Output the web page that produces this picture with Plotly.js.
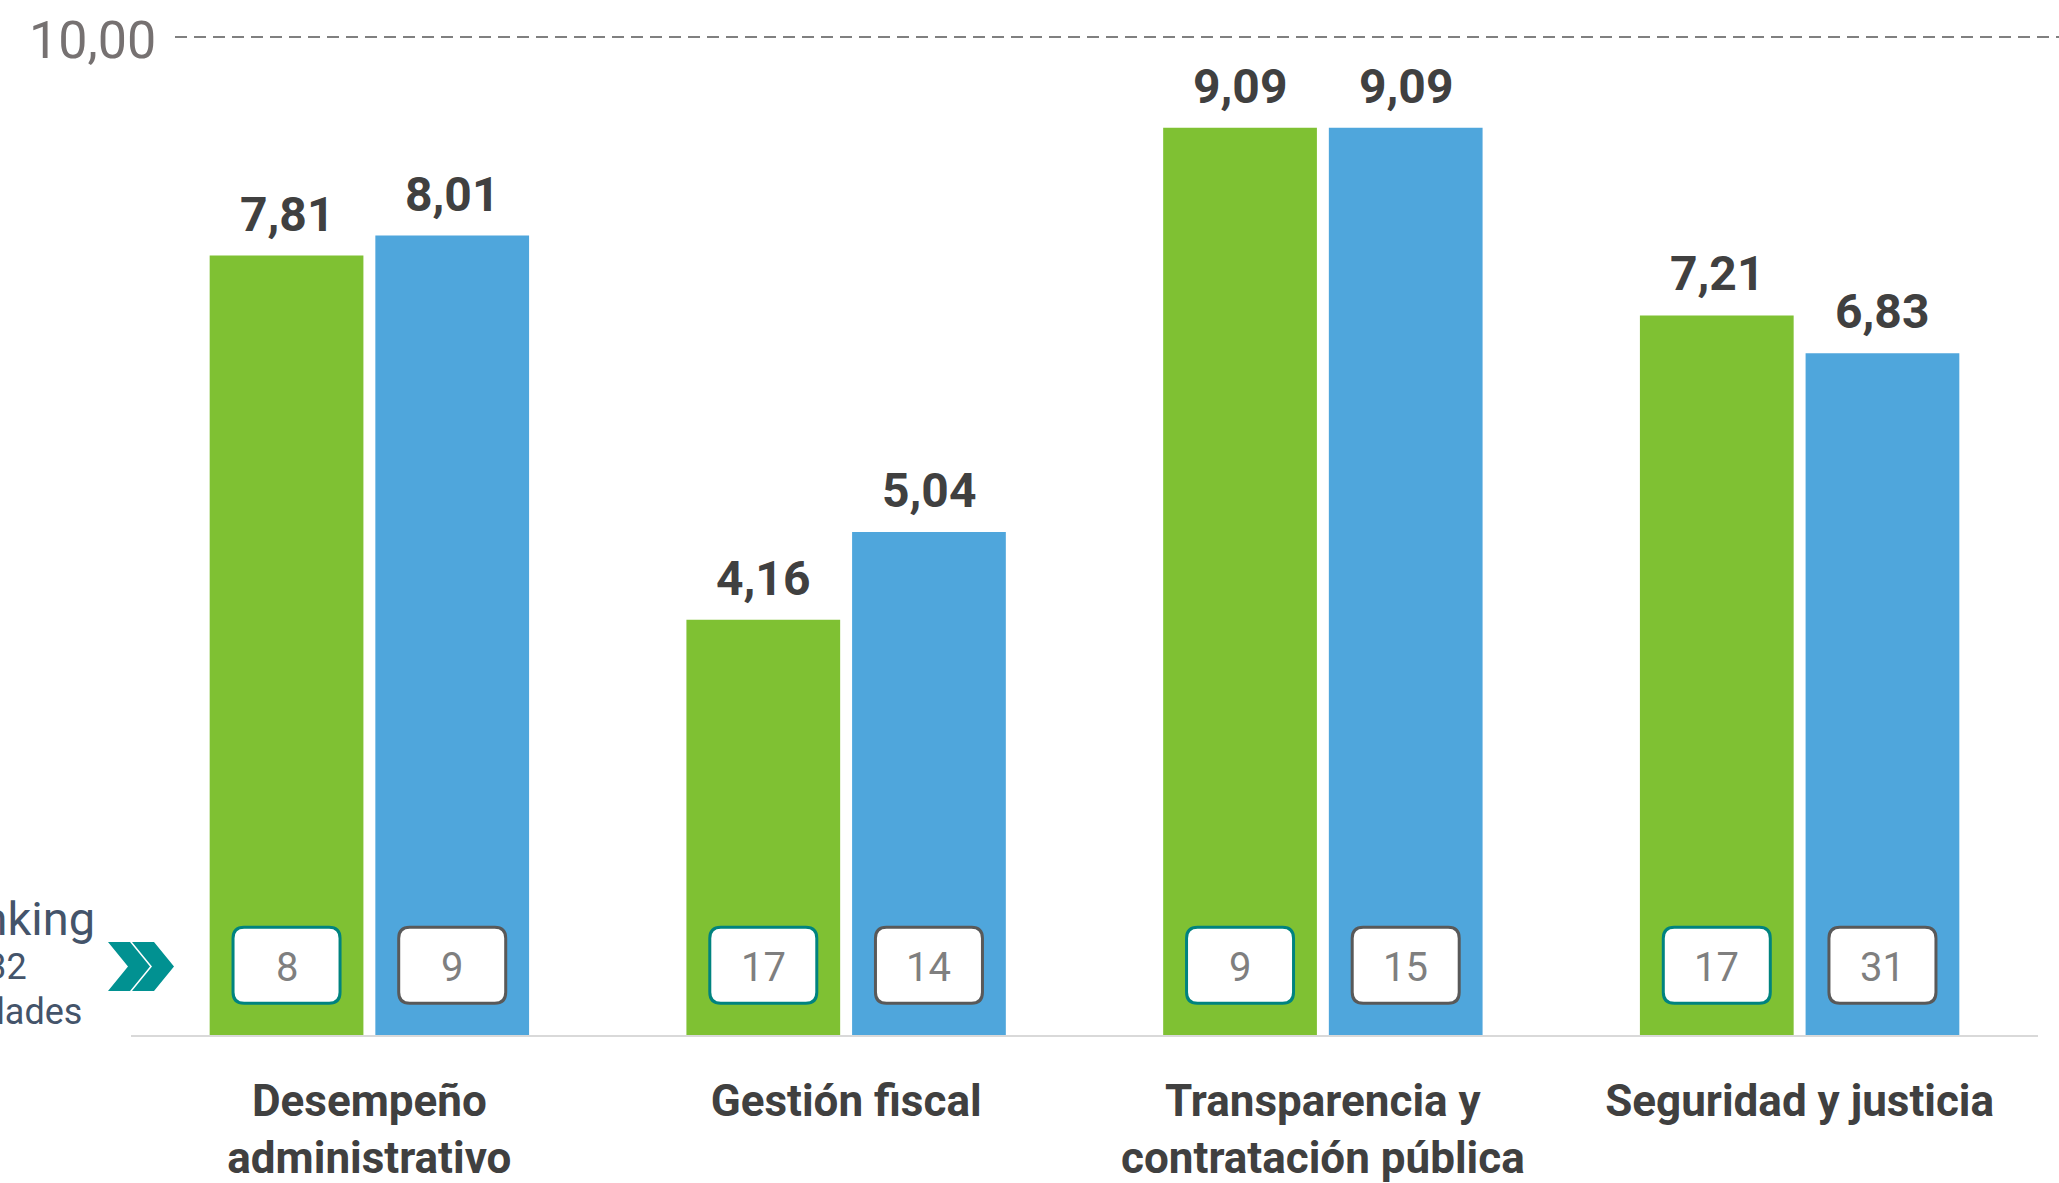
<!DOCTYPE html>
<html>
<head>
<meta charset="utf-8">
<script src="https://cdn.plot.ly/plotly-3.0.1.min.js"></script>
<style>
  html, body { margin: 0; padding: 0; background: #ffffff; }
  #chart { width: 2059px; height: 1183px; }
</style>
</head>
<body>
<div id="chart"></div>
<script>
// ---- data ----
const categories = ["Desempeño<br>administrativo", "Gestión fiscal", "Transparencia y<br>contratación pública", "Seguridad y justicia"];
const serieVerde = [7.81, 4.16, 9.09, 7.21];
const serieAzul  = [8.01, 5.04, 9.09, 6.83];
const rankingVerde = [8, 17, 9, 17];
const rankingAzul  = [9, 14, 15, 31];
const yTickValues = [10];
const yTickLabels = ["10,00"];
const rankingLabels = ["Ranking", "de 32", "entidades"];

// ---- style ----
const W = 2059, H = 1183;
const M = {l: 131, r: 21, t: 37, b: 148};
const plotW = W - M.l - M.r, plotH = H - M.t - M.b;
const px2x = p => (p - M.l) / plotW;
const px2y = p => (H - M.b - p) / plotH;

const green = "#7FC133", blue = "#4FA6DC";
const font = "'Roboto', sans-serif";
const bargap = 0.305, bargroupgap = 0.072;
const off = (1 - bargap) / 4;

const traces = [
  {type: "bar", name: "Serie 1", x: categories, y: serieVerde, marker: {color: green}, hoverinfo: "x+y"},
  {type: "bar", name: "Serie 2", x: categories, y: serieAzul, marker: {color: blue}, hoverinfo: "x+y"}
];

const shapes = [];
const annotations = [];

// value labels above the bars
const fmt = v => v.toFixed(2).replace(".", ",");
categories.forEach((c, i) => {
  [[serieVerde[i], -off], [serieAzul[i], off]].forEach(([v, o]) => {
    annotations.push({xref: "x", yref: "y", x: i + o, y: v, text: fmt(v), showarrow: false,
      xanchor: "center", yanchor: "bottom", yshift: 11,
      font: {family: font, size: 48, color: "#404040", weight: "bold"}});
  });
});

// dashed reference line at the top tick
yTickValues.forEach((v, i) => {
  shapes.push({type: "line", xref: "paper", yref: "paper", x0: px2x(175), x1: px2x(W), y0: v / 10, y1: v / 10,
    line: {color: "#808080", width: 2, dash: "12px,7px"}, layer: "below"});
  annotations.push({xref: "paper", yref: "paper", x: px2x(158), y: v / 10, yshift: -3, xanchor: "right", yanchor: "middle",
    text: yTickLabels[i], showarrow: false, font: {family: font, size: 52, color: "#767171"}});
});

// ranking boxes
const boxW = 107 / plotW * 4;    // in category units
const boxH = 76 / plotH * 10;    // in data units
const rx = 11 / plotW * 4, ry = 11 / plotH * 10;
const boxCy = 0.70;
function roundRect(cx, cy) {
  const x0 = cx - boxW / 2, x1 = cx + boxW / 2, y0 = cy - boxH / 2, y1 = cy + boxH / 2;
  return `M${x0 + rx},${y1} L${x1 - rx},${y1} Q${x1},${y1} ${x1},${y1 - ry} L${x1},${y0 + ry} Q${x1},${y0} ${x1 - rx},${y0} ` +
         `L${x0 + rx},${y0} Q${x0},${y0} ${x0},${y0 + ry} L${x0},${y1 - ry} Q${x0},${y1} ${x0 + rx},${y1} Z`;
}
categories.forEach((c, i) => {
  [[rankingVerde[i], -off, "#00837F"], [rankingAzul[i], off, "#595959"]].forEach(([r, o, bc]) => {
    shapes.push({type: "path", xref: "x", yref: "y", path: roundRect(i + o, boxCy),
      fillcolor: "#ffffff", line: {color: bc, width: 3}, layer: "above"});
    annotations.push({xref: "x", yref: "y", x: i + o, y: boxCy, yshift: -2, text: String(r), showarrow: false,
      xanchor: "center", yanchor: "middle", font: {family: font, size: 40, color: "#7F7F7F"}});
  });
});

// left "Ranking de 32 entidades" label
const labelSpecs = [[97, 918, 47], [29, 967, 36], [84, 1012, 36]];
rankingLabels.forEach((t, i) => {
  const [xr, yc, fs] = labelSpecs[i];
  annotations.push({xref: "paper", yref: "paper", x: px2x(xr), y: px2y(yc), xanchor: "right", yanchor: "middle",
    text: t, showarrow: false, font: {family: font, size: fs, color: "#44546A"}});
});

// double chevron
function chevron(xl, th, depth, yt, yb) {
  const ym = (yt + yb) / 2;
  const pts = [[xl, yt], [xl + th, yt], [xl + th + depth, ym], [xl + th, yb], [xl, yb], [xl + depth, ym]];
  return "M" + pts.map(p => `${px2x(p[0])},${px2y(p[1])}`).join(" L") + " Z";
}
shapes.push({type: "path", xref: "paper", yref: "paper", path: chevron(108, 22, 20, 942, 991),
  fillcolor: "#019191", line: {width: 0}});
shapes.push({type: "path", xref: "paper", yref: "paper", path: chevron(132, 22, 20, 942, 991),
  fillcolor: "#019191", line: {width: 0}});

const layout = {
  width: W, height: H,
  margin: M,
  paper_bgcolor: "#ffffff", plot_bgcolor: "#ffffff",
  showlegend: false,
  separators: ",.",
  barmode: "group", bargap: bargap, bargroupgap: bargroupgap,
  xaxis: {type: "category", showline: true, linecolor: "#D9D9D9", linewidth: 2, ticks: "",
    showgrid: false, zeroline: false, fixedrange: true, ticklabelstandoff: 26,
    tickfont: {family: font, size: 44, color: "#404040", weight: "bold"}},
  yaxis: {range: [0, 10], showgrid: false, zeroline: false, showticklabels: false, fixedrange: true},
  shapes: shapes,
  annotations: annotations
};

Plotly.newPlot("chart", traces, layout, {displayModeBar: false, staticPlot: true});
</script>
</body>
</html>
